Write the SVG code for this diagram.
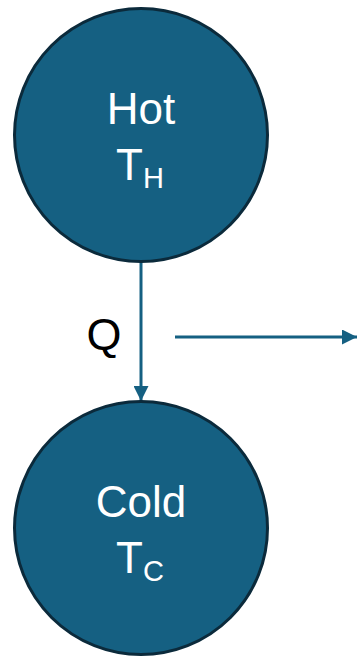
<svg xmlns="http://www.w3.org/2000/svg" width="357" height="657" viewBox="0 0 357 657">
<style>
.node{fill:#156082;stroke:#0b2a3b;stroke-width:3}
.lbl{fill:#ffffff;font-family:"Liberation Sans",Arial,sans-serif;font-size:44px;text-anchor:middle}
.sub{font-size:29px}
.conn{stroke:#156082;stroke-width:3;fill:none}
.q{fill:#000000;font-family:"Liberation Sans",Arial,sans-serif;font-size:45px;text-anchor:middle}
</style>
<defs>
<marker id="ah" viewBox="0 0 10 10" refX="10" refY="5" markerWidth="5" markerHeight="5" markerUnits="strokeWidth" orient="auto">
<path d="M0,0 L10,5 L0,10 z" fill="#156082"/>
</marker>
</defs>
<g id="connectors">
<line class="conn" x1="141" y1="262" x2="141" y2="401" marker-end="url(#ah)"/>
<line class="conn" x1="175" y1="337" x2="357" y2="337" marker-end="url(#ah)"/>
<text class="q" x="104" y="350">Q</text>
</g>
<g id="hot">
<circle class="node" cx="141" cy="135" r="126.5"/>
<text class="lbl" x="141" y="124">Hot</text>
<text class="lbl" x="140" y="180">T<tspan class="sub" dy="8">H</tspan></text>
</g>
<g id="cold">
<circle class="node" cx="141" cy="528" r="126.5"/>
<text class="lbl" x="141" y="517">Cold</text>
<text class="lbl" x="140" y="573">T<tspan class="sub" dy="8">C</tspan></text>
</g>
</svg>
